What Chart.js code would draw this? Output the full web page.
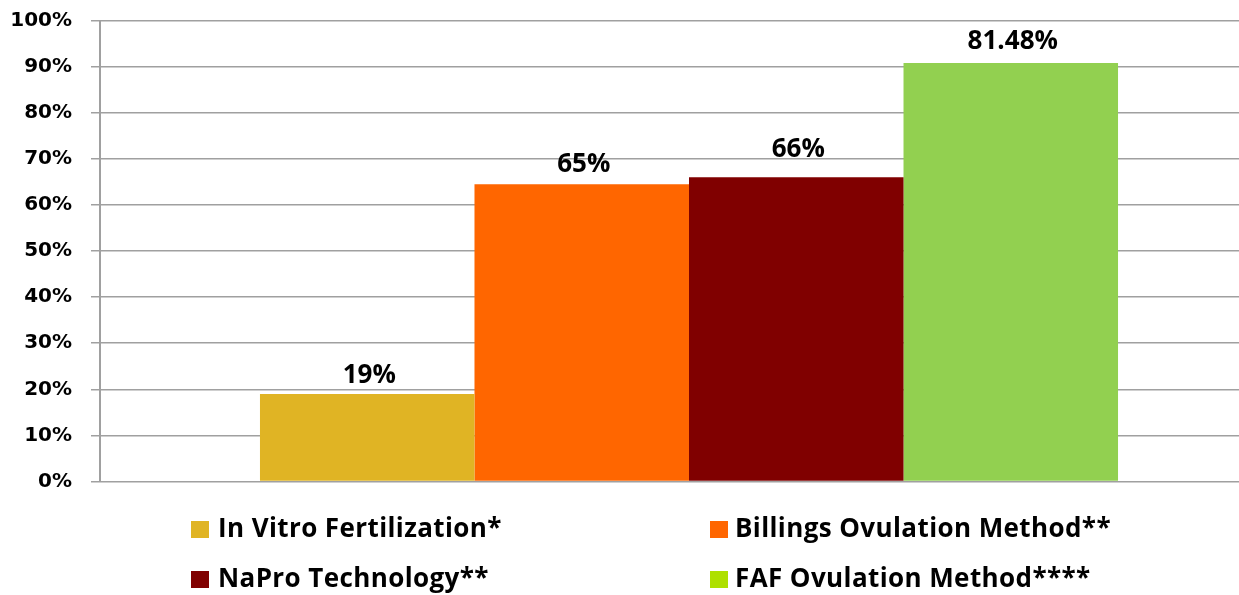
<!DOCTYPE html>
<html><head><meta charset="utf-8">
<script src="https://cdn.jsdelivr.net/npm/chart.js@4.4.1/dist/chart.umd.min.js"></script>
<style>
html,body{margin:0;padding:0;overflow:hidden;background:#fff;width:1239px;height:595px}
#wrap{position:absolute;left:0;top:0;width:1280px;height:595px}
</style></head><body>
<div id="wrap"><canvas id="c" width="1280" height="595"></canvas></div>
<script>
// ---- data ----
const categories = [''];
const seriesNames = ['In Vitro Fertilization*', 'Billings Ovulation Method**', 'NaPro Technology**', 'FAF Ovulation Method****'];
const ivfValues = [19.0];
const billingsValues = [64.5];
const naproValues = [66.0];
const fafValues = [90.8];
const valueLabels = ['19%', '65%', '66%', '81.48%'];
const yTickValues = [0, 10, 20, 30, 40, 50, 60, 70, 80, 90, 100];

// ---- styles ----
const barColors = ['#E0B424', '#FF6600', '#800000', '#92D050'];
const legendColors = ['#E0B424', '#FF6600', '#800000', '#AEE000'];
const labelOffsets = [11, 12, 20, 14];
const gridColor = '#a0a0a0';

const seriesValues = [ivfValues, billingsValues, naproValues, fafValues];

const valueLabelPlugin = {
  id: 'valueLabelPlugin',
  afterDatasetsDraw(chart) {
    const ctx = chart.ctx;
    ctx.save();
    ctx.font = 'bold 26px "Open Sans"';
    ctx.fillStyle = '#000';
    ctx.textAlign = 'center';
    ctx.textBaseline = 'alphabetic';
    chart.data.datasets.forEach((ds, i) => {
      const meta = chart.getDatasetMeta(i);
      meta.data.forEach((bar) => {
        ctx.fillText(valueLabels[i], bar.x + 2, bar.y - ds.labelOffset);
      });
    });
    ctx.restore();
  }
};

const gridLegendPlugin = {
  id: 'gridLegendPlugin',
  afterDraw(chart) {
    const ctx = chart.ctx;
    const colBoxX = [191, 710];
    const colTextX = [218, 735];
    const rowBaseline = [537, 587];
    ctx.save();
    ctx.font = 'bold 26px "Open Sans"';
    try { ctx.letterSpacing = '0.4px'; } catch (e) {}
    ctx.textAlign = 'left';
    ctx.textBaseline = 'alphabetic';
    chart.data.datasets.forEach((ds, i) => {
      const col = i % 2, row = Math.floor(i / 2);
      ctx.fillStyle = ds.legendColor;
      ctx.fillRect(colBoxX[col], rowBaseline[row] - 16, 18, 17);
      ctx.fillStyle = '#000';
      ctx.fillText(ds.label, colTextX[col], rowBaseline[row]);
    });
    ctx.restore();
  }
};

new Chart(document.getElementById('c'), {
  type: 'bar',
  data: {
    labels: categories,
    datasets: seriesNames.map((name, i) => ({
      label: name,
      data: seriesValues[i],
      backgroundColor: barColors[i],
      borderWidth: 0,
      legendColor: legendColors[i],
      labelOffset: labelOffsets[i]
    }))
  },
  options: {
    responsive: false,
    animation: false,
    devicePixelRatio: 1,
    layout: { padding: { left: 0, right: 2, top: 0, bottom: 113.5 } },
    datasets: { bar: { categoryPercentage: 0.7284, barPercentage: 1.0 } },
    plugins: { legend: { display: false }, tooltip: { enabled: false } },
    scales: {
      x: { display: false },
      y: {
        min: 0, max: 100,
        afterBuildTicks(scale) { scale.ticks = yTickValues.map(v => ({ value: v })); },
        afterFit(scale) { scale.width = 100; },
        grid: { color: gridColor, lineWidth: 1.5, tickLength: 9, drawTicks: true, tickColor: gridColor },
        border: { display: true, color: gridColor, width: 2 },
        ticks: {
          autoSkip: false,
          padding: 19,
          color: '#000',
          font: { family: 'DejaVu Sans', weight: 'bold', size: 20, lineHeight: 0.15 },
          callback: v => v + '%'
        }
      }
    }
  },
  plugins: [valueLabelPlugin, gridLegendPlugin]
});
</script>
</body></html>
